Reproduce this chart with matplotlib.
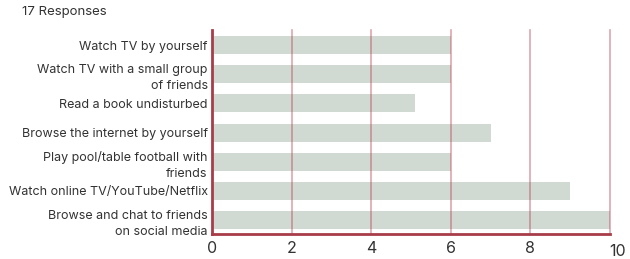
import matplotlib
matplotlib.use("Agg")
import matplotlib.pyplot as plt
import matplotlib.transforms as mtransforms

categories = [
    "Watch TV by yourself",
    "Watch TV with a small group\nof friends",
    "Read a book undisturbed",
    "Browse the internet by yourself",
    "Play pool/table football with\nfriends",
    "Watch online TV/YouTube/Netflix",
    "Browse and chat to friends\non social media",
]
values = [6, 6, 5.1, 7, 6, 9, 10]
xticks = [0, 2, 4, 6, 8, 10]
title = "17 Responses"

plt.rcParams['font.family'] = ['Inter', 'DejaVu Sans']

fig = plt.figure(figsize=(6.3, 2.59), dpi=100)
ax = fig.add_axes([212/630, 1-234/259, 398/630, 204/259])

ypos = list(range(len(categories)))
ax.barh(ypos, values, height=0.62, color="#d0d9d2", zorder=2)

for x in xticks[1:]:
    ax.axvline(x, color="#b83a4c", alpha=0.45, lw=1.2, zorder=3, clip_on=False)

ax.set_xlim(0, 10)
ax.set_ylim(6.48, -0.52)
ax.set_yticks(ypos)
ax.set_yticklabels(categories, fontsize=9.0, color="#333333", linespacing=1.45)
ax.set_xticks(xticks)
ax.set_xticklabels([str(v) for v in xticks], fontsize=11.5, color="#333333")
ax.tick_params(length=0, pad=5)
ax.tick_params(axis="y", pad=3)

for s in ["top", "right"]:
    ax.spines[s].set_visible(False)
for s in ["left", "bottom"]:
    ax.spines[s].set_color("#a83c48")
    ax.spines[s].set_linewidth(2)
    ax.spines[s].set_zorder(4)

# the last tick label sits a bit right and lower in the original
last = ax.get_xticklabels()[-1]
last.set_transform(last.get_transform() + mtransforms.ScaledTranslation(8/100, -3/100, fig.dpi_scale_trans))

fig.text(22/630, 1-12/259, title, fontsize=9.5, color="#333333", va="center", ha="left")

fig.savefig("out.png", dpi=100)
